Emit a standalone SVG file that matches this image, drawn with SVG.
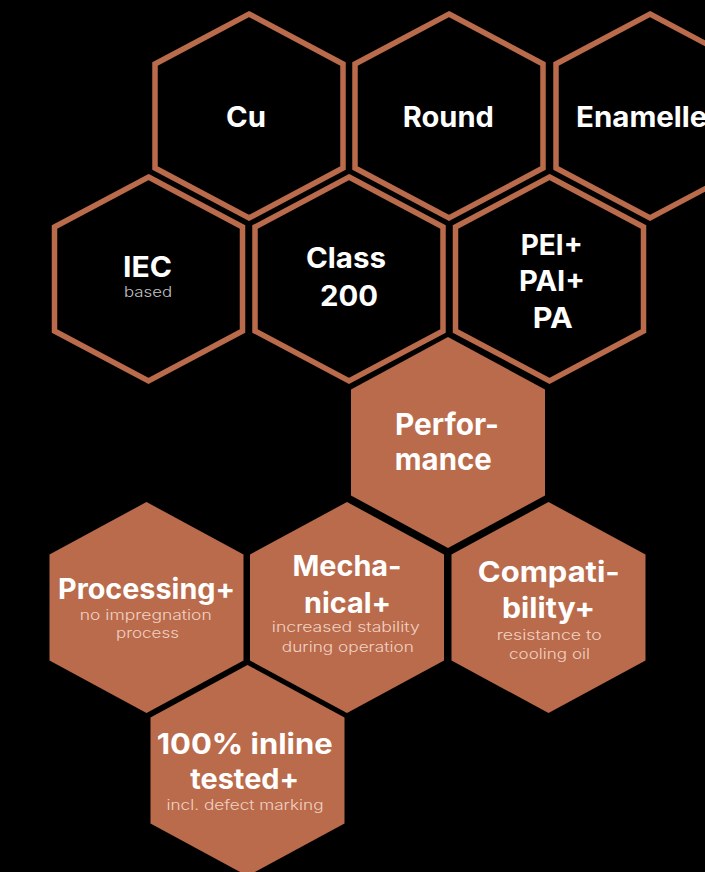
<svg xmlns="http://www.w3.org/2000/svg" width="705" height="872" viewBox="0 0 705 872">
<defs>
<polygon id="hexO" points="0,-102 94,-52 94,52 0,102 -94,52 -94,-52"/>
<polygon id="hexF" points="0,-105.5 97,-53 97,53 0,105.5 -97,53 -97,-53"/>
</defs>
<style>
.o{fill:#000;stroke:#BA6B4B;stroke-width:5.5;stroke-linejoin:miter}
.f{fill:#BA6B4B}
.h{font-family:Inter,"Open Sans","Liberation Sans",sans-serif;font-weight:700;font-size:28px;fill:#fff;text-anchor:middle}
.hp{font-size:30px}
.s{font-family:Inter,"Open Sans","Liberation Sans",sans-serif;font-weight:300;font-size:14px;text-anchor:middle}
.sg{fill:#c4c4c4}
.sc{fill:#f1d2c4}
</style>
<rect width="705" height="872" fill="#000"/>
<g id="connectors"/>
<g id="cu"><use href="#hexO" class="o" x="249" y="116"/><text class="h" x="246" y="127" textLength="40" lengthAdjust="spacingAndGlyphs">Cu</text></g>
<g id="round"><use href="#hexO" class="o" x="449" y="116"/><text class="h" x="448.3" y="127" textLength="91" lengthAdjust="spacingAndGlyphs">Round</text></g>
<g id="enamelled"><use href="#hexO" class="o" x="650" y="116"/><text class="h" x="576" y="127" style="text-anchor:start" textLength="150" lengthAdjust="spacingAndGlyphs">Enamelled</text></g>
<g id="iec"><use href="#hexO" class="o" x="148.5" y="279"/><text class="h" x="147.5" y="277" textLength="49" lengthAdjust="spacingAndGlyphs">IEC</text><text class="s sg" x="148" y="297" textLength="48" lengthAdjust="spacingAndGlyphs">based</text></g>
<g id="class200"><use href="#hexO" class="o" x="349" y="279"/><text class="h" x="346" y="268" textLength="80" lengthAdjust="spacingAndGlyphs">Class</text><text class="h" x="349" y="305.7" textLength="58" lengthAdjust="spacingAndGlyphs">200</text></g>
<g id="pei"><use href="#hexO" class="o" x="549.5" y="279"/><text class="h" x="551.7" y="255" textLength="62" lengthAdjust="spacingAndGlyphs">PEI+</text><text class="h" x="552" y="291" textLength="66" lengthAdjust="spacingAndGlyphs">PAI+</text><text class="h" x="552.7" y="328.3" textLength="40" lengthAdjust="spacingAndGlyphs">PA</text></g>
<g id="performance"><use href="#hexF" class="f" x="448" y="442.5"/><text class="h hp" x="447" y="435" textLength="104" lengthAdjust="spacingAndGlyphs">Perfor-</text><text class="h hp" x="443.3" y="470" textLength="97" lengthAdjust="spacingAndGlyphs">mance</text></g>
<g id="processing"><use href="#hexF" class="f" x="146.5" y="607.5"/><text class="h" x="146.5" y="599.3" textLength="177" lengthAdjust="spacingAndGlyphs">Processing+</text><text class="s sc" x="145.8" y="620" textLength="132" lengthAdjust="spacingAndGlyphs">no impregnation</text><text class="s sc" x="147.5" y="638" textLength="63" lengthAdjust="spacingAndGlyphs">process</text></g>
<g id="mechanical"><use href="#hexF" class="f" x="347" y="607.5"/><text class="h" x="347" y="576" textLength="109" lengthAdjust="spacingAndGlyphs">Mecha-</text><text class="h" x="347.5" y="612.7" textLength="87" lengthAdjust="spacingAndGlyphs">nical+</text><text class="s sc" x="345.8" y="632" textLength="148" lengthAdjust="spacingAndGlyphs">increased stability</text><text class="s sc" x="347.8" y="652" textLength="132" lengthAdjust="spacingAndGlyphs">during operation</text></g>
<g id="compatibility"><use href="#hexF" class="f" x="548.5" y="607.5"/><text class="h" x="548.8" y="581.7" textLength="142" lengthAdjust="spacingAndGlyphs">Compati-</text><text class="h" x="548.5" y="617.7" textLength="93" lengthAdjust="spacingAndGlyphs">bility+</text><text class="s sc" x="549.2" y="640" textLength="105" lengthAdjust="spacingAndGlyphs">resistance to</text><text class="s sc" x="549.5" y="659" textLength="81" lengthAdjust="spacingAndGlyphs">cooling oil</text></g>
<g id="inline"><use href="#hexF" class="f" x="247.5" y="770.5"/><text class="h" x="244.7" y="754" textLength="176" lengthAdjust="spacingAndGlyphs">100% inline</text><text class="h" x="244.7" y="789" textLength="109" lengthAdjust="spacingAndGlyphs">tested+</text><text class="s sc" x="245" y="810" textLength="157" lengthAdjust="spacingAndGlyphs">incl. defect marking</text></g>
</svg>
